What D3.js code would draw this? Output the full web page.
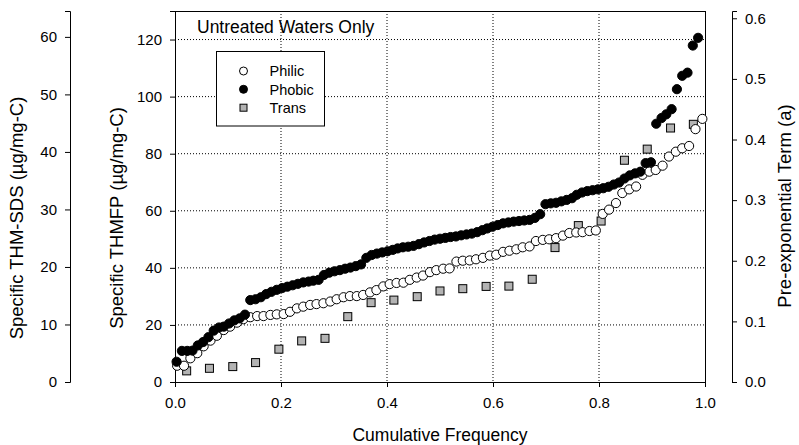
<!DOCTYPE html>
<html>
<head>
<meta charset="utf-8">
<script src="https://cdn.jsdelivr.net/npm/d3@7"></script>
<style>
  html, body { margin: 0; padding: 0; background: #fff; }
  svg { display: block; font-family: "Liberation Sans", Arial, sans-serif; }
</style>
</head>
<body>
<svg id="chart" width="799" height="445"></svg>
<script>
// ---------- data ----------
const seriesNames = ["Philic", "Phobic", "Trans"];

const philicX = [0.004,0.017,0.029,0.042,0.054,0.067,0.079,0.092,0.104,0.117,
  0.129,0.142,0.155,0.167,0.180,0.192,0.205,0.217,0.230,0.242,
  0.255,0.267,0.280,0.293,0.305,0.318,0.330,0.343,0.355,0.368,
  0.380,0.393,0.405,0.418,0.431,0.443,0.456,0.468,0.481,0.493,
  0.506,0.518,0.531,0.543,0.556,0.568,0.581,0.594,0.606,0.619,
  0.631,0.644,0.656,0.669,0.681,0.694,0.706,0.719,0.732,0.744,
  0.757,0.769,0.782,0.794,0.807,0.819,0.832,0.844,0.857,0.870,
  0.882,0.895,0.907,0.920,0.932,0.945,0.957,0.970,0.982,0.995];
const philicY = [5.7,5.7,8.3,10.1,12.5,14.5,16.2,18.2,19.4,20.8,
  22.0,22.7,23.1,23.1,23.5,23.7,23.8,24.6,25.8,26.4,
  27.0,27.3,27.6,28.2,29.0,29.7,30.1,30.1,30.5,31.4,
  32.2,33.5,34.3,34.7,34.8,35.8,36.6,37.3,38.5,39.2,
  39.7,39.8,42.2,42.5,42.6,43.0,43.5,44.3,44.6,45.6,
  46.0,46.5,47.2,47.5,49.4,49.8,50.0,50.4,51.3,52.2,
  52.4,52.5,52.9,53.1,58.9,60.4,62.7,66.2,67.5,68.5,
  72.6,73.7,74.3,75.8,79.0,80.7,81.9,82.7,88.6,92.2];

const phobicX = [0.003,0.013,0.023,0.033,0.043,0.053,0.063,0.073,0.083,0.092,
  0.102,0.112,0.122,0.132,0.142,0.152,0.162,0.172,0.182,0.192,
  0.202,0.212,0.222,0.232,0.242,0.252,0.261,0.271,0.281,0.291,
  0.301,0.311,0.321,0.331,0.341,0.351,0.361,0.371,0.381,0.391,
  0.401,0.411,0.420,0.430,0.440,0.450,0.460,0.470,0.480,0.490,
  0.500,0.510,0.520,0.530,0.540,0.550,0.560,0.570,0.580,0.589,
  0.599,0.609,0.619,0.629,0.639,0.649,0.659,0.669,0.679,0.689,
  0.699,0.709,0.719,0.729,0.739,0.749,0.758,0.768,0.778,0.788,
  0.798,0.808,0.818,0.828,0.838,0.848,0.858,0.868,0.878,0.888,
  0.898,0.908,0.918,0.927,0.937,0.947,0.957,0.967,0.977,0.987];
const phobicY = [7.1,10.9,10.9,11.0,12.8,14.0,15.7,18.0,19.1,19.4,
  20.5,21.6,22.3,23.6,28.7,29.0,29.7,30.8,31.6,32.3,
  32.9,33.4,33.9,34.4,34.9,35.2,35.5,35.8,37.5,38.3,
  38.8,39.2,39.7,40.1,40.6,41.2,43.5,44.5,45.0,45.4,
  45.8,46.3,46.8,47.2,47.4,47.7,48.3,48.9,49.4,49.9,
  50.2,50.5,50.8,51.0,51.4,51.7,52.0,52.5,53.2,53.8,
  54.4,55.0,55.6,55.9,56.2,56.4,56.6,56.8,57.5,58.8,
  62.3,62.6,62.8,63.3,63.8,64.4,65.6,66.4,66.9,67.2,
  67.5,67.9,68.4,69.2,69.9,71.3,72.4,73.1,73.7,76.7,
  77.0,90.5,92.5,93.8,95.6,102.6,107.3,108.4,117.9,120.6];

const transX = [0.022,0.065,0.109,0.152,0.196,0.239,0.283,0.326,0.370,0.413,
  0.457,0.500,0.543,0.587,0.630,0.674,0.717,0.761,0.804,0.848,
  0.891,0.935,0.978];
const transY = [3.9,4.8,5.4,6.8,11.5,14.4,15.3,22.9,27.8,28.7,
  29.9,31.9,32.7,33.5,33.6,36.0,47.1,54.8,56.4,77.7,
  81.6,89.0,90.3];

const xTicks = [0, 0.2, 0.4, 0.6, 0.8, 1.0];
const yTicks = [0, 20, 40, 60, 80, 100, 120];
const sdsTicks = [0, 10, 20, 30, 40, 50, 60];
const aTicks = [0, 0.1, 0.2, 0.3, 0.4, 0.5, 0.6];

const chartTitle = "Untreated Waters Only";
const xTitle = "Cumulative Frequency";
const yTitle = "Specific THMFP (\u00b5g/mg-C)";
const sdsTitle = "Specific THM-SDS (\u00b5g/mg-C)";
const aTitle = "Pre-exponential Term (a)";

// ---------- layout ----------
const L = 175, R = 705, T = 11, B = 382;
const svg = d3.select("#chart");

const x = d3.scaleLinear().domain([0, 1]).range([L, R]);
const y = d3.scaleLinear().domain([0, 130]).range([B, T]);
const ySds = d3.scaleLinear().domain([0, 64.5]).range([B, T]);
const yA = d3.scaleLinear().domain([0, 0.612]).range([B, T]);

const tickFont = "15px";

// grid (dotted)
const grid = svg.append("g");
grid.selectAll("line.vx").data(xTicks.filter(d => d > 0 && d < 1)).join("line")
  .attr("x1", d => x(d)).attr("x2", d => x(d)).attr("y1", T).attr("y2", B)
  .attr("stroke", "#000").attr("stroke-width", 1).attr("stroke-dasharray", "1,2");
grid.selectAll("line.hy").data(yTicks.filter(d => d > 0)).join("line")
  .attr("x1", L).attr("x2", R).attr("y1", d => y(d)).attr("y2", d => y(d))
  .attr("stroke", "#000").attr("stroke-width", 1).attr("stroke-dasharray", "1,2");

// axes
function styleAxis(g) {
  g.selectAll("path.domain").attr("stroke", "#000").attr("stroke-width", 1);
  g.selectAll(".tick line").attr("stroke", "#000");
  g.selectAll("text").attr("font-size", tickFont).attr("fill", "#000")
    .attr("font-family", '"Liberation Sans", Arial, sans-serif');
}

svg.append("g").attr("transform", `translate(0,${B})`)
  .call(d3.axisBottom(x).tickValues(xTicks).tickFormat(d3.format(".1f")).tickSizeOuter(0).tickSize(5).tickPadding(10))
  .call(styleAxis);

svg.append("g").attr("transform", `translate(${L},0)`)
  .call(d3.axisLeft(y).tickValues(yTicks).tickFormat(d3.format("d")).tickSizeOuter(0).tickSize(5).tickPadding(8))
  .call(styleAxis);

svg.append("g").attr("transform", `translate(70,0)`)
  .call(d3.axisLeft(ySds).tickValues(sdsTicks).tickFormat(d3.format("d")).tickSizeOuter(0).tickSize(5).tickPadding(8))
  .call(styleAxis);

svg.append("g").attr("transform", `translate(732,0)`)
  .call(d3.axisRight(yA).tickValues(aTicks).tickFormat(d3.format(".1f")).tickSizeOuter(0).tickSize(5).tickPadding(8))
  .call(styleAxis);

// frame top & right
svg.append("line").attr("x1", L).attr("x2", R).attr("y1", T + 0.5).attr("y2", T + 0.5).attr("stroke", "#000");
svg.append("line").attr("x1", R + 0.5).attr("x2", R + 0.5).attr("y1", T).attr("y2", B).attr("stroke", "#000");

// data marks
const rr = 4.6, sq = 8;
const transData = transX.map((v, i) => ({ x: v, y: transY[i] }));
const philicData = philicX.map((v, i) => ({ x: v, y: philicY[i] }));
const phobicData = phobicX.map((v, i) => ({ x: v, y: phobicY[i] }));

svg.append("g").selectAll("rect").data(transData).join("rect")
  .attr("x", d => x(d.x) - sq / 2).attr("y", d => y(d.y) - sq / 2)
  .attr("width", sq).attr("height", sq)
  .attr("fill", "#b3b3b3").attr("stroke", "#000").attr("stroke-width", 1);

svg.append("g").selectAll("circle").data(philicData).join("circle")
  .attr("cx", d => x(d.x)).attr("cy", d => y(d.y)).attr("r", rr)
  .attr("fill", "#fff").attr("stroke", "#000").attr("stroke-width", 1);

svg.append("g").selectAll("circle").data(phobicData).join("circle")
  .attr("cx", d => x(d.x)).attr("cy", d => y(d.y)).attr("r", rr)
  .attr("fill", "#000").attr("stroke", "#000").attr("stroke-width", 1);

// title inside plot
svg.append("text").attr("x", 197).attr("y", 33).attr("font-size", "17.5px").text(chartTitle);

// legend
const lg = svg.append("g");
lg.append("rect").attr("x", 216.5).attr("y", 51.5).attr("width", 108).attr("height", 74.5)
  .attr("fill", "#fff").attr("stroke", "#000").attr("stroke-width", 1);
const rows = [71, 89.3, 107.7];
lg.append("circle").attr("cx", 243.5).attr("cy", rows[0]).attr("r", 4).attr("fill", "#fff").attr("stroke", "#000");
lg.append("circle").attr("cx", 243.5).attr("cy", rows[1]).attr("r", 4).attr("fill", "#000").attr("stroke", "#000");
lg.append("rect").attr("x", 243.5 - 3.5).attr("y", rows[2] - 3.5).attr("width", 7).attr("height", 7)
  .attr("fill", "#b3b3b3").attr("stroke", "#000");
seriesNames.forEach((n, i) => {
  lg.append("text").attr("x", 269.5).attr("y", rows[i]).attr("dy", "0.36em")
    .attr("font-size", "14.5px").text(n);
});

// axis titles
svg.append("text").attr("x", x(0.5)).attr("y", 441).attr("text-anchor", "middle")
  .attr("font-size", "17.5px").text(xTitle);
svg.append("text").attr("transform", "translate(123,218) rotate(-90)").attr("text-anchor", "middle")
  .attr("font-size", "18.5px").text(yTitle);
svg.append("text").attr("transform", "translate(23,218) rotate(-90)").attr("text-anchor", "middle")
  .attr("font-size", "18.5px").text(sdsTitle);
svg.append("text").attr("transform", "translate(791,206) rotate(-90)").attr("text-anchor", "middle")
  .attr("font-size", "18.5px").text(aTitle);
</script>
</body>
</html>
